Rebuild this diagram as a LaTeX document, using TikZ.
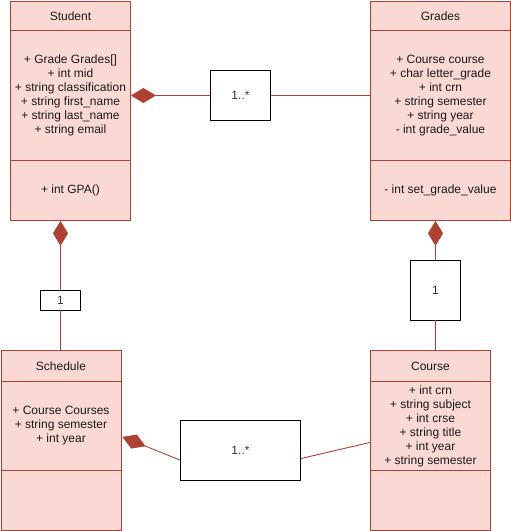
\documentclass[tikz,border=0pt]{standalone}
\usepackage{fontspec}
\setmainfont{Liberation Sans}
\usetikzlibrary{arrows.meta,calc}
\definecolor{clsfill}{HTML}{FAD9D5}
\definecolor{clsdraw}{HTML}{AE4132}
\definecolor{txt}{HTML}{1A1A1A}
\tikzset{
  x=1pt,y=-1pt,
  part/.style={draw=clsdraw,fill=clsfill,line width=0.9pt,rectangle,anchor=north west,inner sep=0pt,
    font=\fontsize{12}{14}\selectfont,text=txt,align=center},
  lab/.style={draw=black,fill=white,line width=0.9pt,rectangle,inner sep=0pt,
    font=\fontsize{12}{14}\selectfont,text=black!80},
  conn/.style={draw=clsdraw,line width=0.9pt},
  comp/.style={conn,-{Diamond[length=25pt,width=15pt,fill=clsdraw]}},
}
\begin{document}
\begin{tikzpicture}
\useasboundingbox (0,0) rectangle (511,531);
% Student
\node[part,minimum width=120pt,minimum height=30pt] (stuH) at (10,0.5) {Student};
\node[part,minimum width=120pt,minimum height=130pt] (stuA) at (10,30) {+ Grade Grades[]\\+ int mid\\+ string classification\\+ string first\_name\\+ string last\_name\\+ string email};
\node[part,minimum width=120pt,minimum height=60pt] (stuM) at (10,160) {+ int GPA()};
% Grades
\node[part,minimum width=140pt,minimum height=30pt] (grH) at (370,0.5) {Grades};
\node[part,minimum width=140pt,minimum height=130pt] (grA) at (370,30) {+ Course course\\+ char letter\_grade\\+ int crn\\+ string semester\\+ string year\\- int grade\_value};
\node[part,minimum width=140pt,minimum height=60pt] (grM) at (370,160) {- int set\_grade\_value};
% Schedule
\node[part,minimum width=120pt,minimum height=31pt] (schH) at (0.5,350) {Schedule};
\node[part,minimum width=120pt,minimum height=89pt] (schA) at (0.5,381) {+ Course Courses\\+ string semester\\+ int year};
\node[part,minimum width=120pt,minimum height=60pt] (schM) at (0.5,470) {};
% Course
\node[part,minimum width=120pt,minimum height=31pt] (crsH) at (370,350) {Course};
\node[part,minimum width=120pt,minimum height=89pt] (crsA) at (370,381) {+ int crn\\+ string subject\\+ int crse\\+ string title\\+ int year\\+ string semester};
\node[part,minimum width=120pt,minimum height=60pt] (crsM) at (370,470) {};
% labels
\node[lab,minimum width=60pt,minimum height=50pt] (lab1) at (240.5,95.5) {1..*};
\node[lab,minimum width=40pt,minimum height=20pt] (lab2) at (60.5,300) {1};
\node[lab,minimum width=50pt,minimum height=60pt] (lab3) at (435.5,290) {1};
\node[lab,minimum width=120pt,minimum height=60pt] (lab4) at (240.5,450.5) {1..*};
% connectors
\draw[comp] (lab1.west) -- (lab1.west -| stuA.east);
\draw[conn] (lab1.east) -- (lab1.east -| grA.west);
\draw[comp] (lab2.north) -- (lab2.north |- stuM.south);
\draw[conn] (lab2.south) -- (lab2.south |- schH.north);
\draw[comp] (lab3.north) -- (lab3.north |- grM.south);
\draw[conn] (lab3.south) -- (lab3.south |- crsH.north);
\coordinate (l4a) at ($(lab4.west)+(0,9.5)$);
\coordinate (l4b) at ($(lab4.east)+(0,8)$);
\coordinate (schP) at ($(schA.east)+(1,11)$);
\coordinate (crsP) at ($(crsA.west)+(0,16.5)$);
\draw[comp] (l4a) -- (schP);
\draw[conn] (l4b) -- (crsP);
\end{tikzpicture}
\end{document}
